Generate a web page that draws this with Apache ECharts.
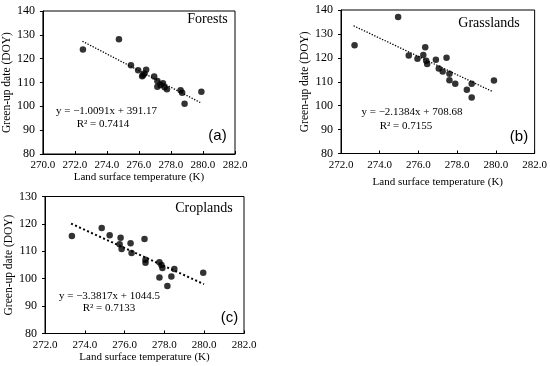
<!DOCTYPE html>
<html><head><meta charset="utf-8">
<script src="https://cdn.jsdelivr.net/npm/echarts@6/dist/echarts.min.js"></script>
<style>html,body{margin:0;padding:0;background:#fff}#c{width:550px;height:366px}</style>
</head><body><div id="c"></div>
<script>
// ---- Data ----
const forestsLST = [272.5, 274.75, 275.5, 275.95, 276.2, 276.25, 276.35, 276.45, 276.95, 277.15, 277.15, 277.35, 277.5, 277.6, 277.75, 278.6, 278.7, 278.85, 279.9];
const forestsDOY = [123.8, 128.1, 117.2, 115.1, 112.6, 113.0, 113.8, 115.3, 112.5, 110.6, 108.2, 109.0, 109.7, 108.0, 107.2, 106.8, 105.7, 101.1, 106.1];
const forestsTrendX = [272.47, 279.83];
const forestsTrendY = [127.3, 101.6];

const grassLST = [272.7, 274.95, 275.5, 275.95, 276.25, 276.35, 276.4, 276.45, 276.9, 277.05, 277.25, 277.45, 277.6, 277.6, 277.9, 278.5, 278.75, 278.75, 279.9];
const grassDOY = [125.3, 137.1, 121.0, 119.6, 121.2, 124.4, 118.8, 117.4, 119.2, 115.5, 114.3, 120.0, 113.3, 110.6, 109.2, 106.7, 109.2, 103.4, 110.5];
const grassTrendX = [272.65, 279.85];
const grassTrendY = [133.4, 105.8];

const cropLST = [273.35, 274.85, 275.25, 275.8, 275.75, 275.85, 276.3, 276.35, 277.0, 277.05, 277.05, 277.75, 277.85, 277.9, 277.75, 278.35, 278.15, 278.5, 279.95];
const cropDOY = [115.6, 118.5, 115.9, 114.9, 112.6, 110.8, 112.9, 109.4, 114.5, 106.9, 105.8, 106.0, 105.0, 103.9, 100.4, 100.8, 97.3, 103.5, 102.2];
const cropTrendX = [273.31, 279.99];
const cropTrendY = [120.1, 98.0];

const panelNames = ['Forests', 'Grasslands', 'Croplands'];
const panelTags = ['(a)', '(b)', '(c)'];
const equations = ['y = \u22121.0091x + 391.17', 'y = \u22122.1384x + 708.68', 'y = \u22123.3817x + 1044.5'];
const r2Texts = ['R\u00b2 = 0.7414', 'R\u00b2 = 0.7155', 'R\u00b2 = 0.7133'];
const xTitle = 'Land surface temperature (K)';
const yTitle = 'Green-up date (DOY)';

// ---- Chart ----
const SERIF = '"Liberation Serif", "Times New Roman", serif';
const SANS = '"Liberation Sans", Arial, sans-serif';
const zip = (a, b) => a.map((v, i) => [v, b[i]]);

const grids = [
  {left: 41, top: 11, width: 194, height: 143},
  {left: 341, top: 10, width: 195, height: 143.5},
  {left: 45, top: 196.5, width: 199, height: 137}
].map(g => Object.assign({show: true, borderColor: '#000', borderWidth: 1, backgroundColor: 'transparent'}, g));

const xRanges = [[270, 282], [272, 282], [272, 282]];
const yRanges = [[80, 140], [80, 140], [80, 130]];
const xNameGaps = [18, 23, 17];
const yNameGaps = [27, 25, 30];

const xAxes = xRanges.map((r, i) => ({
  gridIndex: i, type: 'value', min: r[0], max: r[1], interval: 2,
  name: xTitle, nameLocation: 'middle', nameGap: xNameGaps[i],
  nameTextStyle: {fontFamily: SERIF, fontSize: 11, color: '#000'},
  axisLine: {show: true, lineStyle: {color: '#000', width: 1}},
  axisTick: {show: true, inside: true, length: 3, lineStyle: {color: '#000'}},
  axisLabel: {fontFamily: SERIF, fontSize: 11, color: '#000', margin: 6, formatter: v => v.toFixed(1)},
  splitLine: {show: false}
}));
const yAxes = yRanges.map((r, i) => ({
  gridIndex: i, type: 'value', min: r[0], max: r[1], interval: 10,
  name: yTitle, nameLocation: 'middle', nameGap: yNameGaps[i], nameRotate: 90,
  nameTextStyle: {fontFamily: SERIF, fontSize: 11.5, color: '#000'},
  axisLine: {show: true, lineStyle: {color: '#000', width: 1}},
  axisTick: {show: true, inside: false, length: 3, lineStyle: {color: '#000'}},
  axisLabel: {fontFamily: SERIF, fontSize: 12, color: '#000', margin: 8},
  splitLine: {show: false}
}));

const scatterData = [zip(forestsLST, forestsDOY), zip(grassLST, grassDOY), zip(cropLST, cropDOY)];
const trendData = [zip(forestsTrendX, forestsTrendY), zip(grassTrendX, grassTrendY), zip(cropTrendX, cropTrendY)];
const trendWidths = [1.3, 1.3, 2];

const series = [];
for (let i = 0; i < 3; i++) {
  series.push({
    type: 'line', xAxisIndex: i, yAxisIndex: i, data: trendData[i],
    symbol: 'none', silent: true,
    lineStyle: {color: '#000', width: trendWidths[i], type: [trendWidths[i], trendWidths[i] * 1.2]}
  });
  series.push({
    type: 'scatter', xAxisIndex: i, yAxisIndex: i, data: scatterData[i],
    symbol: 'circle', symbolSize: 6.5, itemStyle: {color: '#000'}
  });
}

function txt(text, x, y, font, align) {
  return {type: 'text', x: x, y: y, silent: true,
    style: {text: text, font: font, fill: '#000', align: align || 'center', verticalAlign: 'middle',
            textAlign: align || 'center', textVerticalAlign: 'middle'}};
}
const namePos = [[207.5, 19], [489, 23], [204, 208]];
const tagPos = [[217.5, 136], [519, 137], [229.5, 318]];
const eqPos = [[106.5, 111], [412, 112.5], [109.5, 296]];
const r2Pos = [[103, 124.5], [406, 126.5], [109, 308]];
const graphics = [];
for (let i = 0; i < 3; i++) {
  graphics.push(txt(panelNames[i], namePos[i][0], namePos[i][1], '14px ' + SERIF));
  graphics.push(txt(panelTags[i], tagPos[i][0], tagPos[i][1], '15px ' + SANS));
  graphics.push(txt(equations[i], eqPos[i][0], eqPos[i][1], '11px ' + SERIF));
  graphics.push(txt(r2Texts[i], r2Pos[i][0], r2Pos[i][1], '11px ' + SERIF));
}

const chart = echarts.init(document.getElementById('c'), null, {renderer: 'canvas'});
chart.setOption({
  animation: false,
  backgroundColor: '#fff',
  grid: grids,
  xAxis: xAxes,
  yAxis: yAxes,
  series: series,
  graphic: graphics
});
</script>
</body></html>
